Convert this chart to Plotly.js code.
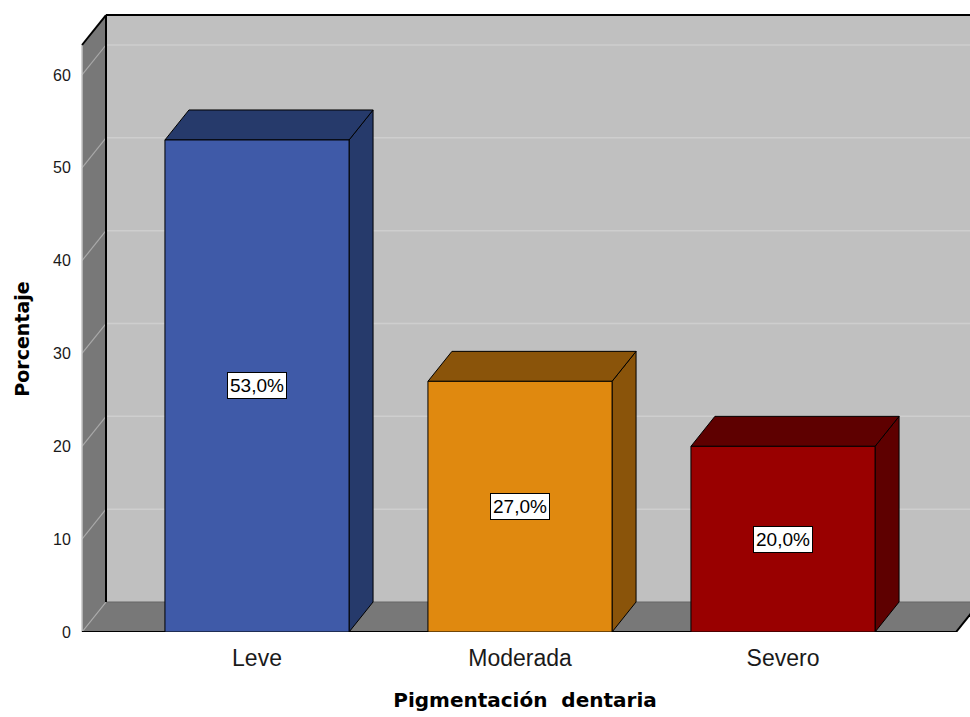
<!DOCTYPE html>
<html>
<head>
<meta charset="utf-8">
<script src="https://cdn.plot.ly/plotly-3.0.1.min.js"></script>
<style>
  html, body { margin: 0; padding: 0; background: #ffffff; }
  #chart { width: 970px; height: 717px; }
</style>
</head>
<body>
<div id="chart"></div>
<script>
// Pigmentación dentaria: percentage per severity level
const categories = ['Leve', 'Moderada', 'Severo'];
const porcentajes = [53.0, 27.0, 20.0];
const yTickValues = [0, 10, 20, 30, 40, 50, 60];

// Face colours: front face and the darker top / side faces
const frontColors = ['#3f5aa8', '#e0890f', '#990000'];
const shadeColors = ['#263a6b', '#8a540a', '#5e0000'];

// Pseudo-3D geometry, in axis units
const BAR_W = 0.7;          // bar width (category units)
const DX = 24 / 263;        // depth offset to the right
const DY = 3.23;            // depth offset upwards (percent units)
const X_MIN = -0.673, X_MAX = 2.711;
const Y_MAX = 67.0;
const WALL_X0 = -0.6654;    // front-left edge of the box
const WALL_TOP = 66.46;     // top of the back wall
const FLOOR_RIGHT = 2.658;  // front-right corner of the floor

const WALL_COLOR = '#c0c0c0';
const SIDE_WALL_COLOR = '#787878';

function path(pts) {
  return 'M' + pts.map(p => p[0] + ',' + p[1]).join(' L') + ' Z';
}
function shape(pts, fill, lineColor, lineWidth, layer) {
  return {
    type: 'path', xref: 'x', yref: 'y', layer: layer || 'below',
    path: path(pts), fillcolor: fill,
    line: { color: lineColor, width: lineWidth }
  };
}
function seg(x0, y0, x1, y1, color, width, layer) {
  return {
    type: 'line', xref: 'x', yref: 'y', layer: layer || 'below',
    x0: x0, y0: y0, x1: x1, y1: y1,
    line: { color: color, width: width }
  };
}

const shapes = [];
const bx = WALL_X0 + DX;

// back wall
shapes.push(shape([[bx, DY], [X_MAX + 0.2, DY], [X_MAX + 0.2, WALL_TOP], [bx, WALL_TOP]],
                  WALL_COLOR, 'rgba(0,0,0,0)', 0));
// back wall gridlines
yTickValues.filter(v => v > 0).forEach(v => {
  shapes.push(seg(bx, v + DY, X_MAX + 0.2, v + DY, '#cecece', 1.5));
});
// floor
shapes.push(shape([[WALL_X0, 0], [FLOOR_RIGHT, 0], [FLOOR_RIGHT + DX, DY], [bx, DY]],
                  SIDE_WALL_COLOR, 'rgba(0,0,0,0)', 0));
shapes.push(seg(bx, DY, X_MAX + 0.2, DY, '#666666', 1));
// left wall
shapes.push(shape([[WALL_X0, 0], [bx, DY], [bx, WALL_TOP], [WALL_X0, WALL_TOP - DY]],
                  SIDE_WALL_COLOR, 'rgba(0,0,0,0)', 0));
// left wall gridlines (including the floor diagonal at 0)
yTickValues.forEach(v => {
  shapes.push(seg(WALL_X0, v, bx, v + DY, '#a9a9a9', 1.2));
});
// box edges
shapes.push(seg(WALL_X0, 0, WALL_X0, WALL_TOP - DY, '#c6c6c6', 1.5));
shapes.push(seg(bx, DY, bx, WALL_TOP, '#000000', 2));
shapes.push(seg(WALL_X0, WALL_TOP - DY, bx, WALL_TOP, '#000000', 2));
shapes.push(seg(bx, WALL_TOP, X_MAX + 0.2, WALL_TOP, '#000000', 2));
shapes.push(seg(WALL_X0, 0, FLOOR_RIGHT, 0, '#000000', 2));
shapes.push(seg(FLOOR_RIGHT, 0, FLOOR_RIGHT + DX, DY, '#000000', 2));

// top and side faces of each bar
porcentajes.forEach((v, i) => {
  const x0 = i - BAR_W / 2, x1 = i + BAR_W / 2;
  shapes.push(shape([[x1, 0], [x1 + DX, DY], [x1 + DX, v + DY], [x1, v]],
                    shadeColors[i], '#000000', 1));
  shapes.push(shape([[x0, v], [x1, v], [x1 + DX, v + DY], [x0 + DX, v + DY]],
                    shadeColors[i], '#000000', 1));
});

function fmt(v) { return v.toFixed(1).replace('.', ',') + '%'; }

const annotations = porcentajes.map((v, i) => ({
  x: i, y: v / 2, xref: 'x', yref: 'y',
  text: fmt(v), showarrow: false,
  font: { family: 'Liberation Sans, Arial, sans-serif', size: 19, color: '#000000' },
  bgcolor: '#ffffff', bordercolor: '#000000', borderwidth: 1, borderpad: 2
}));

// vertical axis title, centred on the drawn box
annotations.push({
  x: 0, y: 0.47, xref: 'paper', yref: 'paper',
  xanchor: 'center', yanchor: 'middle', xshift: -58,
  textangle: -90, showarrow: false,
  text: '<b>Porcentaje</b>',
  font: { family: 'DejaVu Sans, sans-serif', size: 19, color: '#000000' }
});

const trace = {
  type: 'bar',
  x: categories.map((c, i) => i),
  y: porcentajes,
  width: BAR_W,
  marker: { color: frontColors, line: { color: '#000000', width: 1 } },
  hoverinfo: 'skip'
};

const layout = {
  width: 970, height: 717,
  margin: { l: 80, r: 0, t: 10, b: 85 },
  paper_bgcolor: '#ffffff',
  plot_bgcolor: '#ffffff',
  showlegend: false,
  xaxis: {
    range: [X_MIN, X_MAX],
    tickvals: categories.map((c, i) => i),
    ticktext: categories,
    ticks: 'outside', ticklen: 5, tickcolor: 'rgba(0,0,0,0)',
    showgrid: false, zeroline: false, showline: false,
    tickfont: { family: 'Liberation Sans, Arial, sans-serif', size: 23, color: '#1a1a1a' },
    title: {
      text: '<b>Pigmentación\u00a0 dentaria</b>',
      font: { family: 'DejaVu Sans, sans-serif', size: 20, color: '#000000' },
      standoff: 23
    },
    fixedrange: true
  },
  yaxis: {
    range: [0, Y_MAX],
    tickvals: yTickValues,
    ticks: 'outside', ticklen: 5, tickcolor: 'rgba(0,0,0,0)',
    showgrid: false, zeroline: false, showline: false,
    tickfont: { family: 'Liberation Sans, Arial, sans-serif', size: 16, color: '#1a1a1a' },
    fixedrange: true
  },
  shapes: shapes,
  annotations: annotations
};

Plotly.newPlot('chart', [trace], layout, { displayModeBar: false, staticPlot: true });
</script>
</body>
</html>
